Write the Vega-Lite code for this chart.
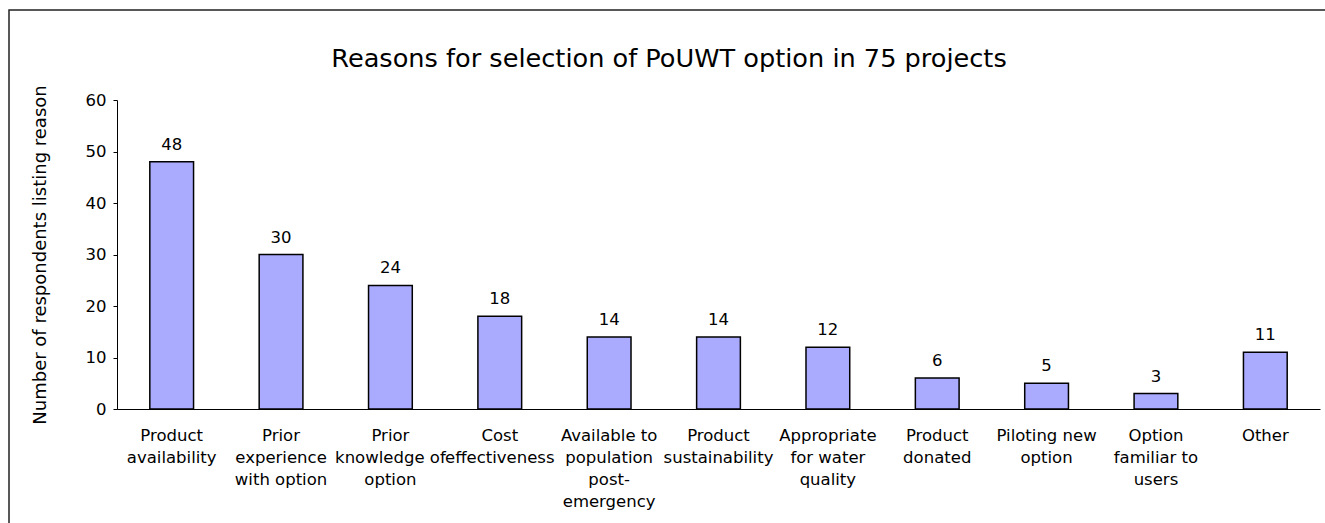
{
  "$schema": "https://vega.github.io/schema/vega-lite/v6.json",
  "autosize": "none",
  "width": 1320,
  "height": 517,
  "padding": {"left": 9, "top": 10, "right": -4, "bottom": -4},
  "background": "white",
  "title": {
    "text": "Reasons for selection of PoUWT option in 75 projects",
    "font": "DejaVu Sans",
    "fontSize": 25.6,
    "fontWeight": "normal",
    "color": "#000",
    "anchor": "middle",
    "frame": "group",
    "baseline": "alphabetic",
    "offset": -83
  },
  "config": {
    "font": "DejaVu Sans",
    "view": {"stroke": "#222", "strokeWidth": 1.5}
  },
  "data": {
    "values": [
      {"reason": "Product availability", "count": 48},
      {"reason": "Prior experience with option", "count": 30},
      {"reason": "Prior knowledge of option", "count": 24},
      {"reason": "Cost effectiveness", "count": 18},
      {"reason": "Available to population post-emergency", "count": 14},
      {"reason": "Product sustainability", "count": 14},
      {"reason": "Appropriate for water quality", "count": 12},
      {"reason": "Product donated", "count": 6},
      {"reason": "Piloting new option", "count": 5},
      {"reason": "Option familiar to users", "count": 3},
      {"reason": "Other", "count": 11}
    ]
  },
  "encoding": {
    "x": {
      "field": "reason",
      "type": "nominal",
      "sort": null,
      "scale": {"range": [108, 1311], "paddingInner": 0.6, "paddingOuter": 0.3},
      "axis": {
        "orient": "bottom",
        "offset": -118,
        "title": null,
        "ticks": false,
        "tickSize": 0,
        "domainColor": "#000",
        "domainWidth": 1,
        "labelAngle": 0,
        "labelFontSize": 16.5,
        "labelColor": "#000",
        "labelPadding": 18,
        "labelLineHeight": 22,
        "labelOverlap": false,
        "labelBaseline": "top",
        "labelExpr": "{'Product availability':['Product','availability'],'Prior experience with option':['Prior','experience','with option'],'Prior knowledge of option':['Prior','knowledge of','option'],'Cost effectiveness':['Cost','effectiveness'],'Available to population post-emergency':['Available to','population','post-','emergency'],'Product sustainability':['Product','sustainability'],'Appropriate for water quality':['Appropriate','for water','quality'],'Product donated':['Product','donated'],'Piloting new option':['Piloting new','option'],'Option familiar to users':['Option','familiar to','users'],'Other':['Other']}[datum.value]"
      }
    },
    "y": {
      "field": "count",
      "type": "quantitative",
      "scale": {"domain": [0, 60], "range": [399, 90], "nice": false},
      "axis": {
        "orient": "left",
        "offset": -108,
        "grid": false,
        "values": [0, 10, 20, 30, 40, 50, 60],
        "domainColor": "#000",
        "domainWidth": 1,
        "tickColor": "#000",
        "tickSize": 4,
        "labelPadding": 7,
        "labelFontSize": 16.5,
        "labelColor": "#000",
        "title": "Number of respondents listing reason",
        "titleFontSize": 18,
        "titleFontWeight": "normal",
        "titleColor": "#000",
        "titleAngle": -90,
        "titleBaseline": "alphabetic",
        "titleX": -72,
        "titleY": 244.5
      }
    }
  },
  "layer": [
    {
      "mark": {"type": "bar", "fill": "#aaaaff", "stroke": "#000", "strokeWidth": 1.5}
    },
    {
      "mark": {"type": "text", "baseline": "alphabetic", "dy": -12, "fontSize": 16.5, "color": "#000"},
      "encoding": {"text": {"field": "count", "type": "quantitative"}}
    }
  ]
}
